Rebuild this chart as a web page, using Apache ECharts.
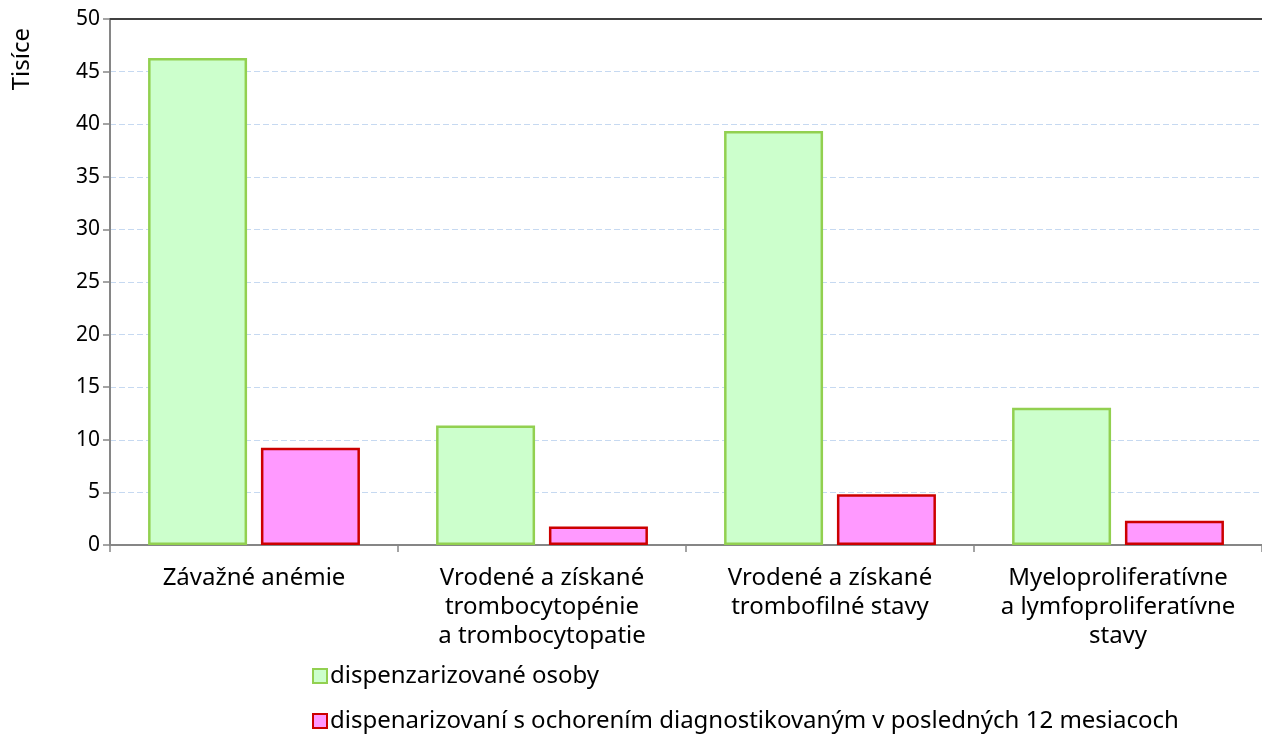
<!DOCTYPE html>
<html>
<head>
<meta charset="utf-8">
<script src="https://cdn.jsdelivr.net/npm/echarts@6/dist/echarts.min.js"></script>
<style>
html, body { margin: 0; padding: 0; background: #fff; }
#main { width: 1262px; height: 735px; }
</style>
</head>
<body>
<div id="main"></div>
<script>
// kategórie a hodnoty (v tisícoch)
var categories = [
	'Závažné anémie',
	'Vrodené a získané\ntrombocytopénie\na trombocytopatie',
	'Vrodené a získané\ntrombofilné stavy',
	'Myeloproliferatívne\na lymfoproliferatívne\nstavy'
];
var seriesNames = [
	'dispenzarizované osoby',
	'dispenarizovaní s ochorením diagnostikovaným v posledných 12 mesiacoch'
];
var dispenzarizovane = [46.3, 11.35, 39.35, 13.05];
var noveDiagnozy = [9.25, 1.75, 4.82, 2.31];
var yTicks = [0, 5, 10, 15, 20, 25, 30, 35, 40, 45, 50];

var fontName = 'Noto Sans';
var myChart = echarts.init(document.getElementById('main'));

var option = {
	animation: false,
	grid: {
		left: 110,
		right: 0,
		top: 19,
		bottom: 190
	},
	legend: {
		orient: 'vertical',
		left: 312,
		top: 663,
		padding: 0,
		icon: 'rect',
		itemWidth: 14,
		itemHeight: 14,
		itemGap: 19,
		textStyle: { fontFamily: fontName, fontSize: 24, lineHeight: 26, color: '#000', padding: [0, 0, 0, -2] },
		data: seriesNames
	},
	xAxis: [
		{
			type: 'category',
			data: categories,
			axisLine: { lineStyle: { color: '#868686', width: 2 } },
			axisTick: { show: true, length: 7, lineStyle: { color: '#868686', width: 1.5 } },
			axisLabel: {
				interval: 0,
				margin: 19,
				fontFamily: fontName,
				fontSize: 24,
				lineHeight: 29,
				color: '#000'
			}
		},
		{
			// horná čiara rámu
			type: 'category',
			position: 'top',
			data: categories,
			axisLine: { lineStyle: { color: '#404040', width: 2 } },
			axisTick: { show: false },
			axisLabel: { show: false }
		}
	],
	yAxis: {
		type: 'value',
		min: yTicks[0],
		max: yTicks[yTicks.length - 1],
		interval: 5,
		name: 'Tisíce',
		nameLocation: 'end',
		nameRotate: 90,
		nameGap: 0,
		nameTextStyle: { fontFamily: fontName, fontSize: 24, color: '#000', align: 'right', verticalAlign: 'bottom', padding: [0, 9, 76, 0] },
		axisLine: { show: true, lineStyle: { color: '#868686', width: 2 } },
		axisTick: { show: true, length: 7, lineStyle: { color: '#868686', width: 1.5 } },
		axisLabel: { margin: 10, fontFamily: fontName, fontSize: 21, color: '#000' },
		splitLine: {
			show: true,
			lineStyle: { color: '#c6d9f1', width: 1, type: [6, 3] }
		}
	},
	series: [
		{
			name: seriesNames[0],
			type: 'bar',
			barWidth: 99,
			barGap: '14%',
			itemStyle: { color: '#ccffcc', borderColor: '#92d050', borderWidth: 2.5 },
			data: dispenzarizovane
		},
		{
			name: seriesNames[1],
			type: 'bar',
			barWidth: 99,
			barGap: '14%',
			itemStyle: { color: '#ff99ff', borderColor: '#cc0000', borderWidth: 2.5 },
			data: noveDiagnozy
		}
	]
};
myChart.setOption(option);
</script>
</body>
</html>
